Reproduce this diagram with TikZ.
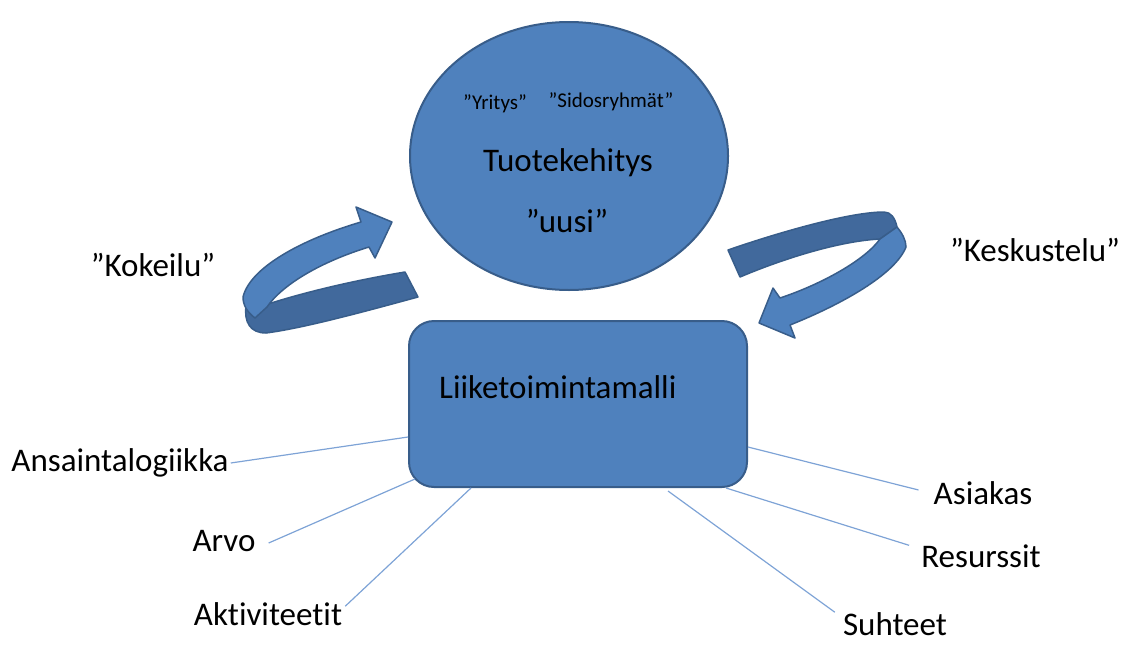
\documentclass[tikz,border=0pt]{standalone}
\usepackage{fontspec}
\setmainfont{Carlito}[Ligatures=NoCommon, RawFeature={-liga;-clig}]
\usepackage{tikz}
\usetikzlibrary{arrows.meta,positioning,calc,shapes.geometric}
\definecolor{officeblue}{HTML}{4F81BD}
\definecolor{officeedge}{HTML}{385D8A}
\definecolor{officedark}{HTML}{41699C}
\definecolor{spoke}{HTML}{7EA3D6}

\begin{document}
\begin{tikzpicture}[
    x=1pt, y=-1pt,
    shapebox/.style={fill=officeblue, draw=officeedge, line width=2pt},
    bandlight/.style={fill=officeblue, draw=officeedge, line width=1.5pt, line join=round},
    banddark/.style={fill=officedark, draw=officeedge, line width=1.5pt, line join=round},
    biglabel/.style={font=\fontsize{33}{38}\selectfont, inner sep=0pt},
    smalllabel/.style={font=\fontsize{21}{25}\selectfont, inner sep=0pt},
    spokeline/.style={draw=spoke, line width=1.2pt}
]
\useasboundingbox (0,0) rectangle (1126,645);

% Product development ellipse
\node[shapebox, ellipse, minimum width=318pt, minimum height=268pt] (tuote) at (569,156) {};
\node[smalllabel] (yritys) at (495,104) {”Yritys”};
\node[smalllabel] (sidos) at (611,102) {”Sidosryhmät”};
\node[biglabel] (tuotetxt) at (568,163) {Tuotekehitys};
\node[biglabel] (uusi) at (567,221) {”uusi”};

% Business model box
\node[shapebox, rounded corners=25pt, minimum width=338pt, minimum height=166pt] (liike) at (578,404) {};
\node[biglabel, anchor=base west] (liiketxt) at (439,398) {Liiketoimintamalli};

% Left curved arrow (Kokeilu)
\draw[banddark] (405,272) .. controls (345,282) and (295,295) .. (262,306)
    -- (246,306) .. controls (244,322) and (250,333) .. (266,333)
    .. controls (305,328) and (370,310) .. (418,297) -- cycle;
\draw[bandlight] (255,318) .. controls (247,312) and (243,305) .. (243,297)
    .. controls (250,268) and (300,240) .. (361,222) -- (356,207) -- (392,222)
    -- (375,258) -- (369,247) .. controls (320,262) and (282,285) .. (267,307) -- cycle;
\node[biglabel] (kokeilu) at (153,265) {”Kokeilu”};

% Right curved arrow (Keskustelu)
\draw[banddark] (728,250) .. controls (780,232) and (850,212) .. (884,212)
    .. controls (891,212) and (895,218) .. (897,227) -- (880,239)
    .. controls (840,241) and (785,258) .. (740,277) -- cycle;
\draw[bandlight] (880,239) -- (897,227) .. controls (902,233) and (906,240) .. (906,247)
    .. controls (895,275) and (840,305) .. (790,325) -- (795,338) -- (759,323)
    -- (773,288) -- (780,298) .. controls (822,284) and (865,260) .. (880,239) -- cycle;
\node[biglabel] (keskustelu) at (1035,250) {”Keskustelu”};

% Spoke labels
\node[biglabel] (ansa) at (120,463) {Ansaintalogiikka};
\node[biglabel] (arvo) at (224,541) {Arvo};
\node[biglabel] (akti) at (268,614) {Aktiviteetit};
\node[biglabel] (asiakas) at (983,493) {Asiakas};
\node[biglabel] (resurssit) at (981,556) {Resurssit};
\node[biglabel] (suhteet) at (895,624) {Suhteet};

% Spokes to the business model box
\draw[spokeline] ([xshift=2pt]ansa.east) -- ([yshift=-33pt]liike.west);
\draw[spokeline] ([xshift=13pt,yshift=-2pt]arvo.east) -- ([xshift=7pt,yshift=9pt]liike.south west);
\draw[spokeline] ([xshift=3pt,yshift=-4pt]akti.north east) -- ([xshift=63pt]liike.south west);
\draw[spokeline] ([xshift=-15pt,yshift=3pt]asiakas.west) -- ([yshift=-43pt]liike.east);
\draw[spokeline] ([xshift=-12pt,yshift=-1pt]resurssit.north west) -- ([xshift=-22pt]liike.south east);
\draw[spokeline] ([xshift=-8pt,yshift=0pt]suhteet.north west) -- ([xshift=-80pt,yshift=-3pt]liike.south east);

\end{tikzpicture}
\end{document}
